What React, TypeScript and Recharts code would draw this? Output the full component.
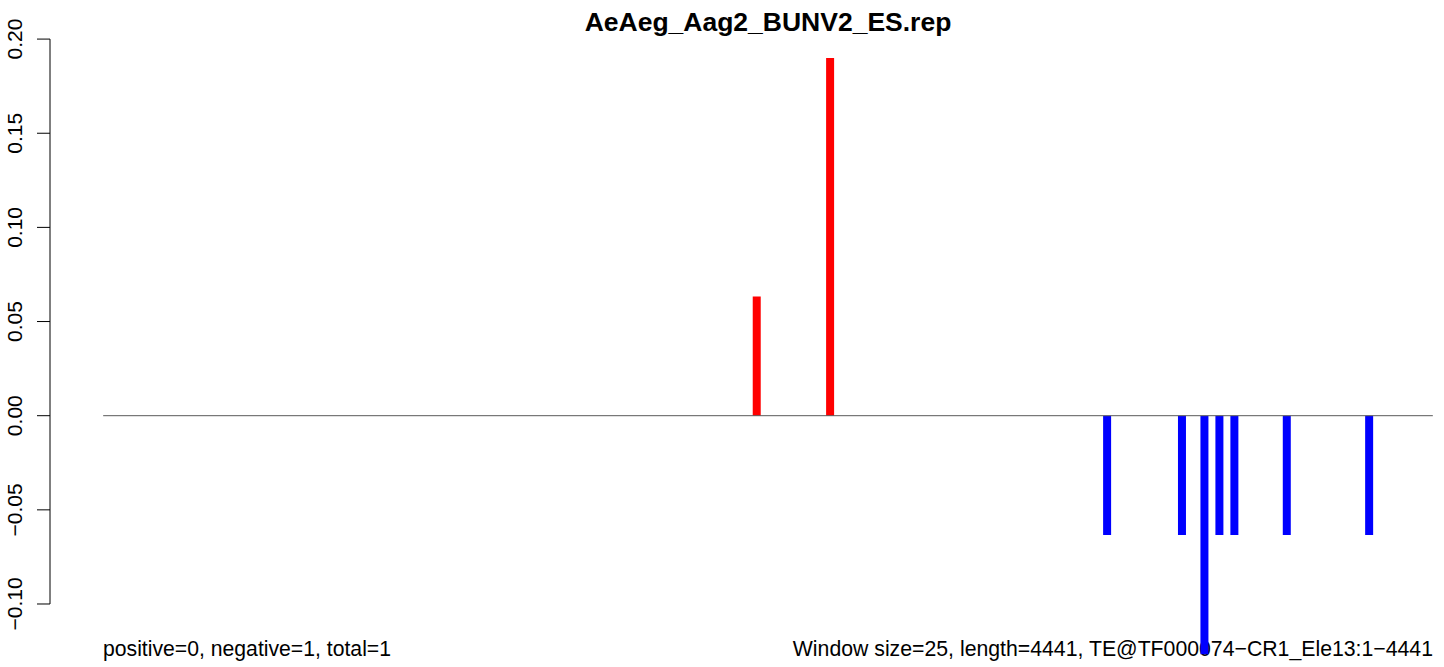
import { BarChart, Bar, XAxis, YAxis, Cell, ReferenceLine } from 'recharts';

// window start positions along the element (bp) and their scores
const positions = [2185, 2430, 3355, 3605, 3680, 3730, 3780, 3955, 4230];
const scores = [0.0633, 0.19, -0.0633, -0.0633, -0.1267, -0.0633, -0.0633, -0.0633, -0.0633];
const yTicks = [-0.1, -0.05, 0, 0.05, 0.1, 0.15, 0.2];

const elementStart = 1;
const elementEnd = 4441;
const xDomain: [number, number] = [-176.6, 4618.6];
const yDomain: [number, number] = [-0.1393, 0.2027];

const title = 'AeAeg_Aag2_BUNV2_ES.rep';
const leftNote = 'positive=0, negative=1, total=1';
const rightNote = 'Window size=25, length=4441, TE@TF000074\u2212CR1_Ele13:1\u22124441';

const data = positions.map((pos, i) => ({ pos, score: scores[i] }));

const FONT = '"Liberation Sans", Arial, Helvetica, sans-serif';

function fmt(v: number) {
  return v.toFixed(2).replace('-', '\u2212');
}

function RotTick(props: any) {
  const { x, y, payload } = props;
  return (
    <text
      x={x}
      y={y}
      transform={`rotate(-90, ${x}, ${y})`}
      textAnchor="middle"
      fontSize={21}
      fontFamily={FONT}
      fill="#000"
    >
      {fmt(payload.value)}
    </text>
  );
}

export default function App() {
  return (
    <div
      style={{
        position: 'fixed',
        left: 0,
        top: 0,
        width: 1444,
        height: 667,
        overflow: 'hidden',
        background: '#fff',
      }}
    >
      <svg
        width={1444}
        height={667}
        style={{ position: 'absolute', left: 0, top: 0, zIndex: 0 }}
      >
        <text x={768} y={31} textAnchor="middle" fontSize={26.5} fontWeight="bold" fontFamily={FONT}>
          {title}
        </text>
        <text x={103} y={656} fontSize={21.2} fontFamily={FONT}>
          {leftNote}
        </text>
        <text x={1433} y={656} textAnchor="end" fontSize={21.25} fontFamily={FONT}>
          {rightNote}
        </text>
      </svg>
      <div style={{ position: 'absolute', left: 0, top: 0, zIndex: 1 }}>
        <BarChart
          width={1500}
          height={700}
          data={data}
          margin={{ top: 34, right: 14, left: 0, bottom: 22 }}
        >
          <XAxis dataKey="pos" type="number" domain={xDomain} allowDataOverflow hide />
          <YAxis
            type="number"
            domain={yDomain}
            allowDataOverflow
            ticks={yTicks}
            interval={0}
            width={50}
            tickSize={13}
            tickMargin={15}
            axisLine={false}
            tickLine={{ stroke: '#000', strokeWidth: 1 }}
            tick={<RotTick />}
          />
          <ReferenceLine
            segment={[
              { x: xDomain[0], y: yTicks[0] },
              { x: xDomain[0], y: yTicks[yTicks.length - 1] },
            ]}
            stroke="#000"
            strokeWidth={1}
            ifOverflow="visible"
          />
          <ReferenceLine
            segment={[
              { x: elementStart, y: 0 },
              { x: elementEnd, y: 0 },
            ]}
            stroke="#595959"
            strokeWidth={1}
          />
          <Bar dataKey="score" barSize={8} isAnimationActive={false}>
            {data.map((d, i) => (
              <Cell key={i} fill={d.score >= 0 ? '#ff0000' : '#0000ff'} />
            ))}
          </Bar>
        </BarChart>
      </div>
    </div>
  );
}
